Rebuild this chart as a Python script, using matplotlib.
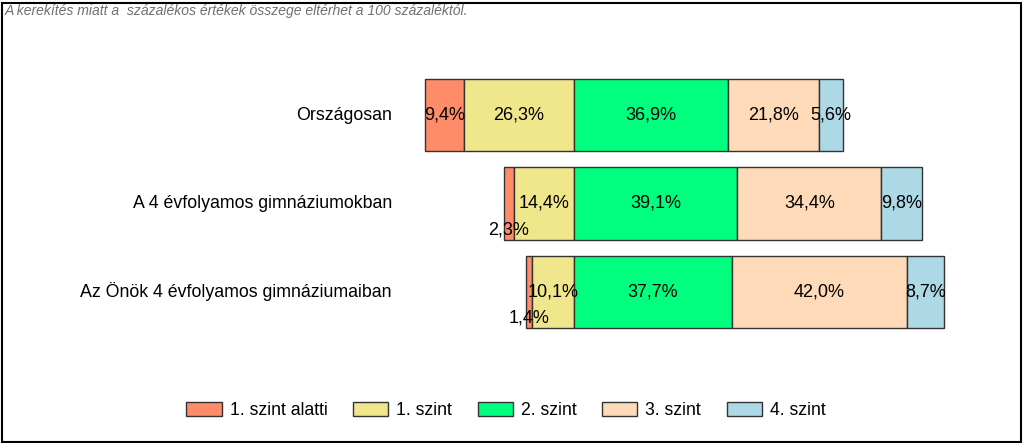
import matplotlib
matplotlib.use("Agg")
import matplotlib.pyplot as plt
from matplotlib.patches import Rectangle, Patch

categories = ["Országosan", "A 4 évfolyamos gimnáziumokban", "Az Önök 4 évfolyamos gimnáziumaiban"]
series_names = ["1. szint alatti", "1. szint", "2. szint", "3. szint", "4. szint"]
below1 = [9.4, 2.3, 1.4]
level1 = [26.3, 14.4, 10.1]
level2 = [36.9, 39.1, 37.7]
level3 = [21.8, 34.4, 42.0]
level4 = [5.6, 9.8, 8.7]
colors = ["#FF8C69", "#F0E68C", "#00FF7F", "#FFDAB9", "#ADD8E6"]
note = "A kerekítés miatt a  százalékos értékek összege eltérhet a 100 százaléktól."

plt.rcParams['font.family'] = ['Liberation Sans', 'DejaVu Sans']

W, H = 1024, 443
fig = plt.figure(figsize=(W / 100, H / 100), dpi=100)

# axes in pixel coords
ax_l, ax_r = 400, 1000
ax_top, ax_bot = 71, 336
ax = fig.add_axes([ax_l / W, 1 - ax_bot / H, (ax_r - ax_l) / W, (ax_bot - ax_top) / H])
scale = 4.18
zero_px = 574
ax.set_xlim(-(zero_px - ax_l) / scale, (ax_r - zero_px) / scale)
ax.set_ylim(2.5, -0.5)
ax.axis('off')

series = [below1, level1, level2, level3, level4]
bh = 0.82
fs = 13
for i, cat in enumerate(categories):
    left_start = -(below1[i] + level1[i])
    pos = left_start
    for s, vals in enumerate(series):
        v = vals[i]
        ax.barh(i, v, left=pos, height=bh, color=colors[s], edgecolor="#333333", linewidth=1.0)
        cx = pos + v / 2
        lab = f"{v:.1f}%".replace(".", ",")
        if v < 3:
            ax.text(cx, i + 0.3, lab, ha='center', va='center', fontsize=fs)
        else:
            ax.text(cx, i, lab, ha='center', va='center', fontsize=fs)
        pos += v
    ax.text(-(zero_px - 392) / scale, i, cat, ha='right', va='center', fontsize=12.8)

# legend
handles = [Patch(facecolor=c, edgecolor="#333333", label=n) for c, n in zip(colors, series_names)]
fig.legend(handles=handles, loc='center', bbox_to_anchor=(506 / W, 1 - 410.5 / H), ncol=5,
           frameon=False, fontsize=12.7, handlelength=2.0, handleheight=0.85, columnspacing=1.45,
           handletextpad=0.45, borderpad=0, borderaxespad=0)

# note
fig.text(5 / W, 1 - 11 / H, note, ha='left', va='center', fontsize=10.1, style='italic', color='#707070')

# border
fig.patches.append(Rectangle((1.5 / W, 1.5 / H), (W - 5) / W, (H - 4) / H, transform=fig.transFigure,
                             fill=False, edgecolor='black', linewidth=1.5))

fig.savefig("out.png", dpi=100)
